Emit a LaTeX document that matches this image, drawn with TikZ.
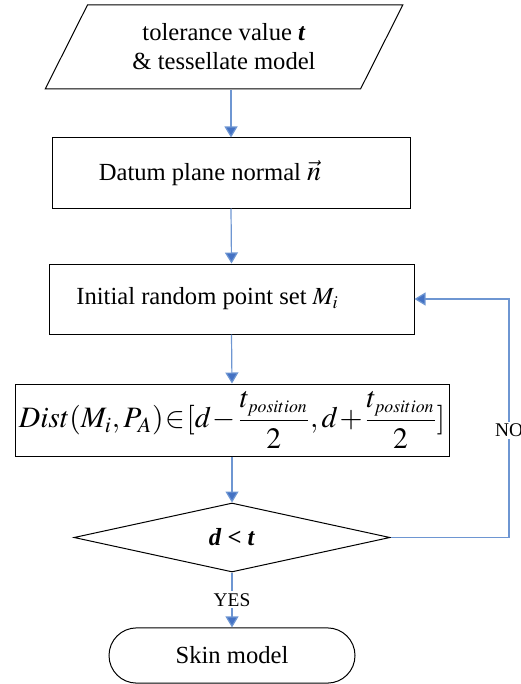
\documentclass[tikz,border=0pt]{standalone}
\usepackage{mathptmx}
\usepackage{fontspec}
\setmainfont{Liberation Serif}
\usetikzlibrary{arrows.meta,shapes.geometric,calc}

\definecolor{flowblue}{RGB}{68,114,196}
\definecolor{lineblue}{RGB}{110,150,210}

\begin{document}
\begin{tikzpicture}[
  x=0.5pt, y=-0.5pt,
  font=\fontsize{12.3}{14.5}\selectfont,
  io/.style={draw, trapezium, trapezium left angle=63, trapezium right angle=117,
    trapezium stretches=true, minimum width=179pt, minimum height=42pt, align=center, line width=0.5pt},
  box/.style={draw, line width=0.5pt, inner sep=2pt},
  decision/.style={draw, diamond, aspect=4.5, inner sep=0pt, minimum width=158pt, minimum height=34.5pt, line width=0.5pt},
  terminal/.style={draw, rounded corners=13.8pt, minimum width=123pt, minimum height=27.6pt, line width=0.5pt},
  arrow/.style={-{Triangle[width=6.5pt,length=5.5pt,fill=flowblue]}, line width=0.6pt, draw=lineblue},
  tag/.style={fill=white, inner sep=1pt, font=\fontsize{9.7}{11}\selectfont}
]
\useasboundingbox (0,0) rectangle (520,684);

\node[io] (input) at (224,47) {tolerance value \textbf{\textit{t}}\\\& tessellate model};
\node[box, minimum width=179pt, minimum height=35pt] (datum) at (231,173)
  {Datum plane normal {\fontsize{14}{15}\selectfont$\vec{n}$}\hspace*{21pt}};
\node[box, minimum width=182.5pt, minimum height=35pt] (points) at (231.5,299)
  {Initial random point set $M_i$\hspace*{24pt}};
\node[box, minimum width=217pt, minimum height=36pt, inner sep=0pt, font=\fontsize{14.8}{17}\selectfont] (dist) at (232,420)
  {\thickmuskip=1mu \medmuskip=1mu
   $\displaystyle Dist(M_i,P_A)\in[d-\frac{t_{\scriptscriptstyle position}}{2},d+\frac{t_{\scriptscriptstyle position}}{2}]$};
\node[decision] (check) at (232,537.5) {\textbf{\textit{d} < \textit{t}}};
\node[terminal] (skin) at (232,655.5) {Skin model};

\coordinate (corner) at (509,0);

\draw[arrow] (input.south -| datum.north) -- (datum.north);
\draw[arrow] (datum.south) -- (points.north);
\draw[arrow] (points.south) -- (dist.north);
\draw[arrow] (dist.south) -- (check.north);
\draw[arrow] (check.south) -- node[tag] {YES} (skin.north);
\draw[arrow] (check.east) -- (check.east -| corner) -- node[tag, pos=0.45] {NO} (points.east -| corner) -- (points.east);

\end{tikzpicture}
\end{document}
